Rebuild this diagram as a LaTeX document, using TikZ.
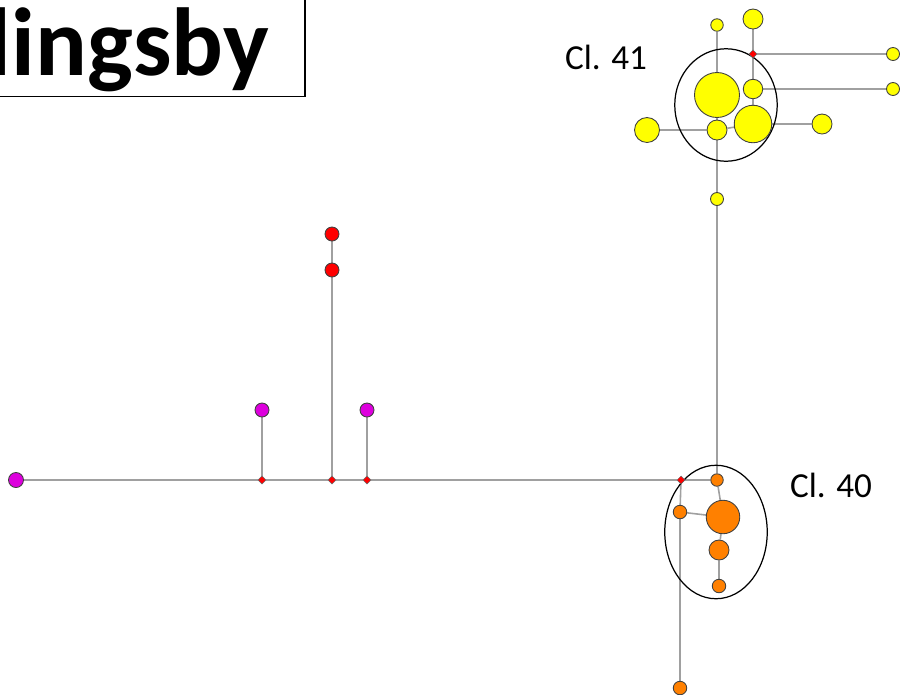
\documentclass[tikz,border=0pt]{standalone}
\usepackage{fontspec}
\setmainfont{Carlito}
\usepackage{tikz}
\usetikzlibrary{shapes.geometric, backgrounds}
\definecolor{hapyellow}{HTML}{FFFF00}
\definecolor{haporange}{HTML}{FF8000}
\definecolor{hapred}{HTML}{FF0000}
\definecolor{hapmagenta}{HTML}{DD00DD}
\definecolor{linkgray}{HTML}{A0A0A0}

\begin{document}
\begin{tikzpicture}[
  x={(0.02cm,0)}, y={(0,-0.02cm)},
  hap/.style={circle, draw=black!75, line width=0.5pt, inner sep=0pt},
  yel/.style={hap, fill=hapyellow},
  ora/.style={hap, fill=haporange},
  redhap/.style={hap, fill=hapred, minimum size=0.28cm},
  mag/.style={hap, fill=hapmagenta, minimum size=0.28cm},
  knot/.style={diamond, draw=black!60, line width=0.3pt, fill=hapred, inner sep=0pt, minimum size=0.16cm},
  link/.style={draw=linkgray, line width=0.9pt},
  cluster/.style={ellipse, draw=black, line width=0.7pt, inner sep=0pt, minimum width=2.05cm},
  clabel/.style={font=\fontsize{20}{24}\selectfont, anchor=base, inner sep=0pt},
  titlebox/.style={draw=black, line width=1.1pt, font=\bfseries\fontsize{55}{60}\selectfont,
    inner xsep=0.72cm, inner ysep=0.17cm, text height=1.6cm, text depth=0.26cm}
]
  \useasboundingbox (0,0) rectangle (900,694);

  % title
  \node[titlebox, anchor=base west] (title) at (-49,75) {lingsby};

  % clusters
  \node[cluster, minimum height=2.25cm] (cl41) at (726,105) {};
  \node[cluster, minimum height=2.67cm] (cl40) at (716,532) {};
  \node[clabel] (lab41) at (606,69) {Cl. 41};
  \node[clabel] (lab40) at (831,497) {Cl. 40};

  % yellow group
  \node[yel, minimum size=0.25cm] (ytopl) at (717,25) {};
  \node[yel, minimum size=0.4cm] (ytop) at (753,19) {};
  \node[knot] (yknot) at (753,54) {};
  \node[yel, minimum size=0.26cm] (yfar1) at (893,54) {};
  \node[yel, minimum size=0.9cm] (ybig) at (717,95) {};
  \node[yel, minimum size=0.39cm] (ymid2) at (753,89) {};
  \node[yel, minimum size=0.26cm] (yfar2) at (893,89) {};
  \node[yel, minimum size=0.75cm] (ybig2) at (753,124) {};
  \node[yel, minimum size=0.4cm] (yright) at (822,124) {};
  \node[yel, minimum size=0.5cm] (yleft) at (647,130) {};
  \node[yel, minimum size=0.4cm] (ymid) at (717,130) {};
  \node[yel, minimum size=0.26cm] (ylow) at (717,199) {};

  % red and magenta group
  \node[redhap] (rtop) at (332,234) {};
  \node[redhap] (rlow) at (332,270) {};
  \node[mag] (mleft) at (262,410) {};
  \node[mag] (mright) at (367,410) {};
  \node[mag, minimum size=0.3cm] (mfar) at (16,480) {};
  \node[knot] (k1) at (262,480) {};
  \node[knot] (k2) at (332,480) {};
  \node[knot] (k3) at (367,480) {};
  \node[knot] (k4) at (681,480) {};

  % orange group
  \node[ora, minimum size=0.25cm] (otop) at (717,480) {};
  \node[ora, minimum size=0.67cm] (obig) at (723,517) {};
  \node[ora, minimum size=0.27cm] (oleft) at (680,512) {};
  \node[ora, minimum size=0.4cm] (omid) at (719,550) {};
  \node[ora, minimum size=0.27cm] (olow) at (719,586) {};
  \node[ora, minimum size=0.27cm] (ofar) at (680,688) {};

  \begin{scope}[on background layer]
    \draw[link] (mfar) -- (k1) -- (k2) -- (k3) -- (k4) -- (otop);
    \draw[link] (k1) -- (mleft);
    \draw[link] (k2) -- (rlow) -- (rtop);
    \draw[link] (k3) -- (mright);
    \draw[link] (k4) -- (oleft) -- (ofar);
    \draw[link] (oleft) -- (obig);
    \draw[link] (otop) -- (obig) -- (omid) -- (olow);
    \draw[link] (otop) -- (ylow) -- (ymid) -- (ybig) -- (ytopl);
    \draw[link] (yleft) -- (ymid) -- (ybig2) -- (yright);
    \draw[link] (ybig2) -- (ymid2) -- (yknot) -- (ytop);
    \draw[link] (yknot) -- (yfar1);
    \draw[link] (ymid2) -- (yfar2);
  \end{scope}
\end{tikzpicture}
\end{document}
